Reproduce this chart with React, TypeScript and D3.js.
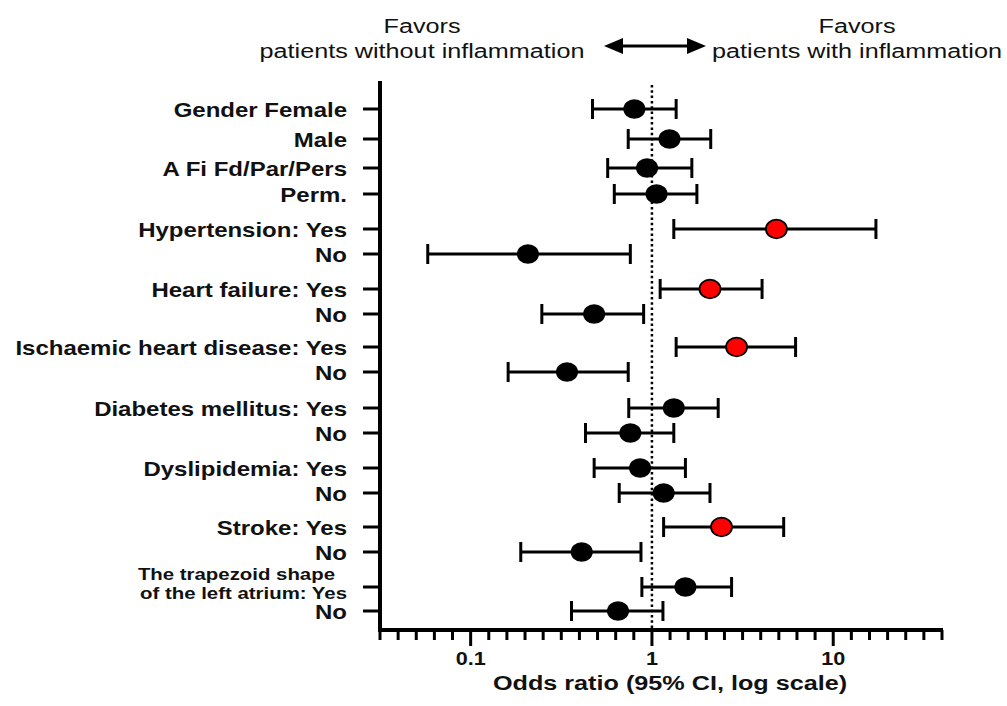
import React from 'react';
import * as d3 from 'd3';

// Row labels (top to bottom)
const categories = [
  'Gender Female', 'Male', 'A Fi Fd/Par/Pers', 'Perm.',
  'Hypertension: Yes', 'No',
  'Heart failure: Yes', 'No',
  'Ischaemic heart disease: Yes', 'No',
  'Diabetes mellitus: Yes', 'No',
  'Dyslipidemia: Yes', 'No',
  'Stroke: Yes', 'No',
  'The trapezoid shape\nof the left atrium: Yes', 'No',
];

// Row position on the (hidden) y value axis, like the original plot's y values
const rowPos = [0, 6, 11.8, 17, 24, 29, 36, 41, 47.6, 52.6, 59.8, 64.8, 71.8, 76.8, 83.6, 88.6, 95.6, 100.4];

// Odds ratios and 95% CI
const oddsRatio = [0.8, 1.25, 0.94, 1.06, 4.86, 0.207, 2.09, 0.48, 2.93, 0.34, 1.32, 0.76, 0.86, 1.16, 2.42, 0.41, 1.53, 0.65];
const ciLower = [0.47, 0.74, 0.57, 0.62, 1.32, 0.058, 1.11, 0.247, 1.36, 0.161, 0.745, 0.43, 0.48, 0.66, 1.16, 0.189, 0.88, 0.36];
const ciUpper = [1.36, 2.11, 1.66, 1.77, 17.2, 0.76, 4.05, 0.9, 6.2, 0.74, 2.32, 1.32, 1.53, 2.09, 5.33, 0.87, 2.75, 1.15];

const majorTicks = [0.1, 1, 10];
const tickLabels = ['0.1', '1', '10'];

const W = 1007;
const H = 706;
const FONT = '"Liberation Sans", Arial, Helvetica, sans-serif';
const SX = 1.2; // the figure is stretched horizontally

const x = d3.scaleLog().domain([Math.pow(10, -1.5), Math.pow(10, 1.6)]).range([380, 942]);
const y = d3.scaleLinear().domain([-5.6, 104.2]).range([81, 630]);

// minor ticks every 0.1 decade
const minorTicks = d3.range(-15, 17).map(i => Math.pow(10, i / 10));

export default function App() {
  const axisY = y.range()[1];
  const axisX = x.range()[0];

  const arrowY = 46;
  const arrowL = 604;
  const arrowR = 706;

  return (
    <svg width={W} height={H} style={{ position: 'absolute', left: 0, top: 0, background: '#fff' }}>
      <rect width={W} height={H} fill="#fff" />

      {/* header */}
      <g fontFamily={FONT} fontSize={21} fill="#111">
        <text transform={`translate(422,33) scale(${SX},1)`} textAnchor="middle">Favors</text>
        <text transform={`translate(422,58) scale(${SX},1)`} textAnchor="middle">patients without inflammation</text>
        <text transform={`translate(857,33) scale(${SX},1)`} textAnchor="middle">Favors</text>
        <text transform={`translate(857,58) scale(${SX},1)`} textAnchor="middle">patients with inflammation</text>
      </g>
      <line x1={arrowL + 15} x2={arrowR - 15} y1={arrowY} y2={arrowY} stroke="#000" strokeWidth={3} />
      <path d={`M${arrowL},${arrowY} L${arrowL + 19},${arrowY - 8} L${arrowL + 19},${arrowY + 8} Z`} fill="#000" />
      <path d={`M${arrowR},${arrowY} L${arrowR - 19},${arrowY - 8} L${arrowR - 19},${arrowY + 8} Z`} fill="#000" />

      {/* reference line at OR = 1 */}
      <line x1={x(1)} x2={x(1)} y1={85} y2={axisY} stroke="#000" strokeWidth={2.5} strokeDasharray="2.5,2.8" />

      {/* y axis */}
      <line x1={axisX} x2={axisX} y1={y.range()[0]} y2={axisY + 2} stroke="#000" strokeWidth={4} />
      {rowPos.map((p, i) => (
        <line key={'yt' + i} x1={axisX - 17} x2={axisX} y1={y(p)} y2={y(p)} stroke="#000" strokeWidth={3} />
      ))}
      <g fontFamily={FONT} fontSize={20} fontWeight="bold" fill="#111">
        {categories.map((c, i) => {
          const lines = c.split('\n');
          const yy = y(rowPos[i]);
          if (lines.length === 1) {
            return (
              <text key={'lab' + i} transform={`translate(347,${yy + 7.5}) scale(${SX},1)`} textAnchor="end">{c}</text>
            );
          }
          // two-line label, set a bit smaller so it fits between the "No" rows
          return (
            <g key={'lab' + i} fontSize={17}>
              <text transform={`translate(335,${yy - 7}) scale(${SX},1)`} textAnchor="end">{lines[0]}</text>
              <text transform={`translate(347,${yy + 12}) scale(${SX},1)`} textAnchor="end">{lines[1]}</text>
            </g>
          );
        })}
      </g>

      {/* x axis */}
      <line x1={axisX - 2} x2={x.range()[1] + 1} y1={axisY} y2={axisY} stroke="#000" strokeWidth={4} />
      {minorTicks.map((t, i) => {
        const major = (i - 15) % 10 === 0;
        return (
          <line key={'xt' + i} x1={x(t)} x2={x(t)} y1={axisY} y2={axisY + (major ? 16 : 10)} stroke="#000" strokeWidth={3} />
        );
      })}
      <g fontFamily={FONT} fontSize={18} fontWeight="bold" fill="#111">
        {majorTicks.map((t, i) => (
          <text key={'xl' + i} transform={`translate(${x(t)},665) scale(${SX},1)`} textAnchor="middle">{tickLabels[i]}</text>
        ))}
        <text transform={`translate(670,690) scale(${SX},1)`} textAnchor="middle" fontSize={21}>Odds ratio (95% CI, log scale)</text>
      </g>

      {/* error bars and points */}
      {oddsRatio.map((v, i) => {
        const yy = y(rowPos[i]);
        const lo = x(ciLower[i]);
        const hi = x(ciUpper[i]);
        const sig = ciLower[i] > 1;
        return (
          <g key={'pt' + i}>
            <line x1={lo} x2={hi} y1={yy} y2={yy} stroke="#000" strokeWidth={3} />
            <line x1={lo} x2={lo} y1={yy - 10} y2={yy + 10} stroke="#000" strokeWidth={3} />
            <line x1={hi} x2={hi} y1={yy - 10} y2={yy + 10} stroke="#000" strokeWidth={3} />
            <ellipse cx={x(v)} cy={yy} rx={sig ? 10.5 : 11} ry={sig ? 9.3 : 9.8} fill={sig ? '#ff0000' : '#000'} stroke="#000" strokeWidth={sig ? 1.8 : 0} />
          </g>
        );
      })}
    </svg>
  );
}
